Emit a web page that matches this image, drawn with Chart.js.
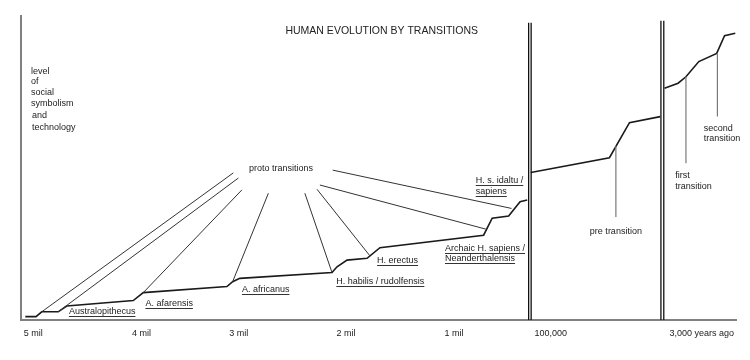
<!DOCTYPE html>
<html>
<head>
<meta charset="utf-8">
<script src="https://cdn.jsdelivr.net/npm/chart.js@4.4.1/dist/chart.umd.min.js"></script>
<style>
  html, body { margin: 0; padding: 0; background: #fff; }
</style>
</head>
<body>
<canvas id="chart" width="750" height="360"></canvas>
<script>
// x = position along the (broken) timeline, 0-100
// y = level of social symbolism and technology, 0-100
const tickPositions = [1.7, 16.85, 30.45, 45.45, 60.55, 74.1, 95.2];
const tickLabels = ['5 mil', '4 mil', '3 mil', '2 mil', '1 mil', '100,000', '3,000 years ago'];

// main curve, one piece per section of the timeline
const earlyX = [0.6, 2.1, 2.9, 5.2, 6.4, 15.7, 17.1, 28.8, 29.6, 30.6, 43.5, 44.2, 45.6, 48.4, 50.2, 64.7, 65.9, 68.2, 69.8, 70.8];
const earlyY = [1.1, 1.1, 2.7, 2.7, 4.6, 6.4, 9.0, 11.0, 12.6, 13.7, 15.6, 17.5, 19.7, 20.3, 23.8, 27.9, 33.5, 34.2, 38.9, 39.5];
const midX = [71.3, 82.3, 85.1, 89.4];
const midY = [48.5, 53.4, 64.9, 66.9];
const lateX = [90.0, 91.9, 93.0, 94.8, 97.3, 98.4, 99.9];
const lateY = [76.2, 77.9, 80.0, 85.0, 87.7, 93.5, 94.3];

// "proto transitions" pointer lines: from the label down to the curve
const protoFromX = [29.7, 30.4, 30.9, 34.6, 39.7, 41.4, 41.8, 43.6];
const protoFromY = [48.4, 46.7, 42.8, 41.7, 41.7, 43.0, 44.4, 49.3];
const protoToX = [2.9, 5.2, 17.1, 29.6, 43.5, 48.8, 65.0, 68.6];
const protoToY = [2.7, 2.7, 9.0, 12.6, 15.6, 21.1, 29.9, 36.7];

// pre / first / second transition markers
const transX = [83.2, 93.0, 97.4];
const transTopY = [57.2, 80.0, 87.5];
const transBottomY = [33.9, 51.6, 66.9];

// double lines where the time axis is broken
const breakX = [71.0, 71.35, 89.5, 89.9];
const breakTopY = [97.8, 97.8, 98.4, 98.4];

const FONT = '"Liberation Sans", Arial, sans-serif';

function pts(xs, ys) {
    return xs.map((v, i) => ({ x: v, y: ys[i] }));
}

function lineSet(data, color, width) {
    return {
        data: data,
        showLine: true,
        borderColor: color,
        borderWidth: width,
        pointRadius: 0,
        fill: false,
        tension: 0
    };
}

const datasets = [];
protoFromX.forEach((v, i) => {
    datasets.push(lineSet([{ x: v, y: protoFromY[i] }, { x: protoToX[i], y: protoToY[i] }], '#333', 1));
});
transX.forEach((v, i) => {
    datasets.push(lineSet([{ x: v, y: transTopY[i] }, { x: v, y: transBottomY[i] }], '#7a7a7a', 1.2));
});
breakX.forEach((v, i) => {
    datasets.push(lineSet([{ x: v, y: breakTopY[i] }, { x: v, y: 0 }], '#111', 1.3));
});
datasets.push(lineSet(pts(earlyX, earlyY), '#1a1a1a', 1.6));
datasets.push(lineSet(pts(midX, midY), '#1a1a1a', 1.6));
datasets.push(lineSet(pts(lateX, lateY), '#1a1a1a', 1.6));

// text placed in data units
const titleText = 'HUMAN EVOLUTION BY TRANSITIONS';
const titleAt = [50.45, 94.9];
const yCaption = [
    { text: 'level', x: 1.4, y: 81.9 },
    { text: 'of', x: 1.4, y: 78.4 },
    { text: 'social', x: 1.4, y: 74.9 },
    { text: 'symbolism', x: 1.4, y: 71.3 },
    { text: 'and', x: 1.55, y: 67.2 },
    { text: 'technology', x: 1.55, y: 63.2 }
];
const speciesLabels = [
    { text: 'Australopithecus', x: 6.7, y: 2.7 },
    { text: 'A. afarensis', x: 17.4, y: 5.5 },
    { text: 'A. africanus', x: 30.9, y: 10.1 },
    { text: 'H. habilis / rudolfensis', x: 44.1, y: 12.8 },
    { text: 'H. erectus', x: 49.8, y: 19.6 },
    { text: 'Archaic H. sapiens /', x: 59.3, y: 23.6 },
    { text: 'Neanderthalensis', x: 59.3, y: 20.3 },
    { text: 'H. s. idaltu /', x: 63.6, y: 45.8 },
    { text: 'sapiens', x: 63.6, y: 42.4 }
];
const plainLabels = [
    { text: 'proto transitions', x: 31.9, y: 49.9, align: 'left' },
    { text: 'pre transition', x: 83.2, y: 29.0, align: 'center' },
    { text: 'first', x: 91.5, y: 47.4, align: 'left' },
    { text: 'transition', x: 91.5, y: 43.9, align: 'left' },
    { text: 'second', x: 95.5, y: 63.1, align: 'left' },
    { text: 'transition', x: 95.5, y: 59.6, align: 'left' }
];

const notes = {
    id: 'notes',
    afterDatasetsDraw(chart) {
        const ctx = chart.ctx;
        const sx = chart.scales.x;
        const sy = chart.scales.y;
        ctx.save();
        ctx.fillStyle = '#222';
        ctx.textBaseline = 'middle';

        ctx.font = '10.5px ' + FONT;
        ctx.textAlign = 'center';
        ctx.fillText(titleText, sx.getPixelForValue(titleAt[0]), sy.getPixelForValue(titleAt[1]));

        ctx.font = '9px ' + FONT;
        yCaption.concat(plainLabels).forEach(l => {
            ctx.textAlign = l.align || 'left';
            ctx.fillText(l.text, sx.getPixelForValue(l.x), sy.getPixelForValue(l.y));
        });

        ctx.textAlign = 'left';
        ctx.strokeStyle = '#333';
        ctx.lineWidth = 1;
        speciesLabels.forEach(l => {
            const px = sx.getPixelForValue(l.x);
            const py = sy.getPixelForValue(l.y);
            ctx.fillText(l.text, px, py);
            const w = ctx.measureText(l.text).width;
            ctx.beginPath();
            ctx.moveTo(px, Math.round(py + 4.5) + 0.5);
            ctx.lineTo(px + w, Math.round(py + 4.5) + 0.5);
            ctx.stroke();
        });
        ctx.restore();
    }
};

new Chart(document.getElementById('chart'), {
    type: 'scatter',
    data: { datasets: datasets },
    options: {
        responsive: false,
        animation: false,
        layout: { padding: { top: 16, right: 14, bottom: 0, left: 0 } },
        plugins: {
            legend: { display: false },
            tooltip: { enabled: false }
        },
        scales: {
            x: {
                type: 'linear',
                min: 0,
                max: 100,
                grid: { display: false, drawTicks: false },
                border: { display: true, color: '#808080', width: 2 },
                ticks: {
                    autoSkip: false,
                    maxRotation: 0,
                    padding: 8,
                    color: '#222',
                    font: { family: FONT, size: 9 },
                    callback: (v, i) => tickLabels[i]
                },
                afterBuildTicks: s => { s.ticks = tickPositions.map(v => ({ value: v })); },
                afterFit: s => { s.height = 40; }
            },
            y: {
                type: 'linear',
                min: 0,
                max: 100,
                grid: { display: false, drawTicks: false },
                border: { display: true, color: '#808080', width: 2 },
                ticks: { display: false },
                afterFit: s => { s.width = 21; }
            }
        }
    },
    plugins: [notes]
});
</script>
</body>
</html>
